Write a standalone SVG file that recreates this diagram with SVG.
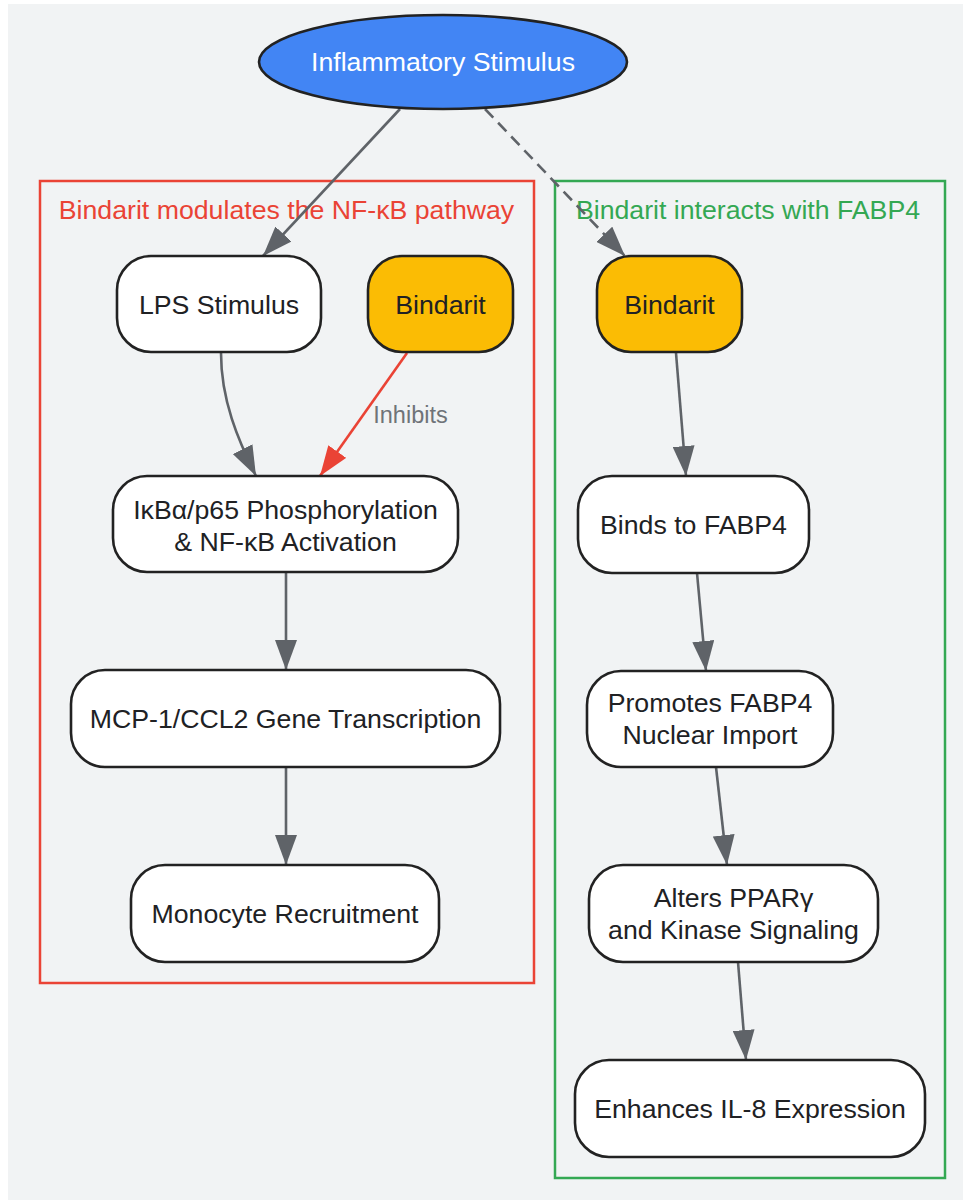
<svg xmlns="http://www.w3.org/2000/svg" width="963" height="1203" viewBox="0 0 963 1203">
<defs>
<style>
.bg{fill:#f1f3f4}
.node rect{fill:#ffffff;stroke:#222222;stroke-width:2.6}
.node.yellow rect{fill:#fbbc04}
.node text{font-family:"Liberation Sans",Arial,sans-serif;font-size:26.7px;fill:#202124;text-anchor:middle}
.node.blue ellipse{fill:#4285f4;stroke:#222222;stroke-width:2.6}
.node.blue text{fill:#ffffff}
.cluster rect{fill:none;stroke-width:2.5}
.cluster text{font-family:"Liberation Sans",Arial,sans-serif;font-size:26.7px;text-anchor:middle}
.edge{fill:none;stroke:#5f6368;stroke-width:2.6}
.edge.red{stroke:#ea4335}
.edge.dash{stroke-dasharray:12,7}
.elabel{font-family:"Liberation Sans",Arial,sans-serif;font-size:23.5px;fill:#6f7378;text-anchor:middle}
</style>
<marker id="arr" markerUnits="userSpaceOnUse" markerWidth="30" markerHeight="22" refX="30" refY="11" orient="auto" viewBox="0 0 30 22">
<path d="M0,0 L30,11 L0,22 z" fill="#5f6368"/>
</marker>
<marker id="arrRed" markerUnits="userSpaceOnUse" markerWidth="30" markerHeight="22" refX="30" refY="11" orient="auto" viewBox="0 0 30 22">
<path d="M0,0 L30,11 L0,22 z" fill="#ea4335"/>
</marker>
</defs>
<rect class="bg" x="8" y="4" width="955" height="1196"/>

<g id="cluster-nfkb" class="cluster">
<rect x="40" y="181" width="494" height="802" stroke="#ea4335"/>
<text x="286.5" y="219" fill="#ea4335">Bindarit modulates the NF-κB pathway</text>
</g>
<g id="cluster-fabp4" class="cluster">
<rect x="555" y="181" width="390" height="997" stroke="#34a853"/>
<text x="748" y="219" fill="#34a853">Bindarit interacts with FABP4</text>
</g>

<g id="connectors">
<path class="edge" d="M400,109 L263,256" marker-end="url(#arr)"/>
<path class="edge dash" d="M485,109 L625,256" marker-end="url(#arr)"/>
<path class="edge" d="M221,353 C221,400 238,440 256,476" marker-end="url(#arr)"/>
<path class="edge red" d="M407,353 L320,476" marker-end="url(#arrRed)"/>
<text class="elabel" x="410.5" y="423">Inhibits</text>
<path class="edge" d="M286,572 L286,670" marker-end="url(#arr)"/>
<path class="edge" d="M286,767 L286,865" marker-end="url(#arr)"/>
<path class="edge" d="M676,353 L686,476" marker-end="url(#arr)"/>
<path class="edge" d="M697,573 L706,671" marker-end="url(#arr)"/>
<path class="edge" d="M716,767 L727,865" marker-end="url(#arr)"/>
<path class="edge" d="M738,962 L746,1060" marker-end="url(#arr)"/>
</g>

<g id="node-stimulus" class="node blue">
<ellipse cx="443" cy="62" rx="184" ry="47"/>
<text x="443" y="71">Inflammatory Stimulus</text>
</g>
<g id="node-lps" class="node">
<rect x="117" y="256" width="204" height="96" rx="34"/>
<text x="219" y="314">LPS Stimulus</text>
</g>
<g id="node-bindarit1" class="node yellow">
<rect x="368" y="256" width="145" height="96" rx="34"/>
<text x="440.5" y="314">Bindarit</text>
</g>
<g id="node-ikb" class="node">
<rect x="113" y="476" width="345" height="96" rx="34"/>
<text x="285.5" y="519">IκBα/p65 Phosphorylation</text>
<text x="285.5" y="551">&amp; NF-κB Activation</text>
</g>
<g id="node-mcp" class="node">
<rect x="71" y="670" width="429" height="97" rx="34"/>
<text x="285.5" y="728">MCP-1/CCL2 Gene Transcription</text>
</g>
<g id="node-mono" class="node">
<rect x="131" y="865" width="308" height="97" rx="34"/>
<text x="285" y="923">Monocyte Recruitment</text>
</g>
<g id="node-bindarit2" class="node yellow">
<rect x="597" y="256" width="145" height="96" rx="34"/>
<text x="669.5" y="314">Bindarit</text>
</g>
<g id="node-binds" class="node">
<rect x="578" y="476" width="231" height="97" rx="34"/>
<text x="693.5" y="534">Binds to FABP4</text>
</g>
<g id="node-promotes" class="node">
<rect x="587" y="671" width="246" height="96" rx="34"/>
<text x="710" y="712">Promotes FABP4</text>
<text x="710" y="744">Nuclear Import</text>
</g>
<g id="node-alters" class="node">
<rect x="589" y="865" width="289" height="97" rx="34"/>
<text x="733.5" y="907">Alters PPARγ</text>
<text x="733.5" y="939">and Kinase Signaling</text>
</g>
<g id="node-il8" class="node">
<rect x="575" y="1060" width="350" height="97" rx="34"/>
<text x="750" y="1118">Enhances IL-8 Expression</text>
</g>
</svg>
